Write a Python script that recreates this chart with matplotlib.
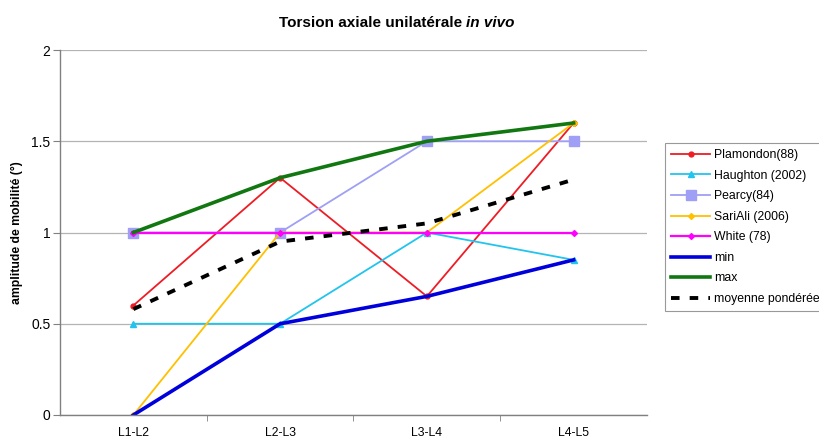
import matplotlib
matplotlib.use("Agg")
import matplotlib.pyplot as plt
from matplotlib.ticker import FixedLocator, NullFormatter

plt.rcParams['font.family'] = ['Liberation Sans', 'DejaVu Sans']

# data
levels = ['L1-L2', 'L2-L3', 'L3-L4', 'L4-L5']
plamondon = [0.6, 1.3, 0.65, 1.6]
haughton = [0.5, 0.5, 1.0, 0.85]
pearcy = [1.0, 1.0, 1.5, 1.5]
sariali = [0.0, 1.0, 1.0, 1.6]
white = [1.0, 1.0, 1.0, 1.0]
min_vals = [0.0, 0.5, 0.65, 0.85]
max_vals = [1.0, 1.3, 1.5, 1.6]
moyenne = [0.58, 0.95, 1.05, 1.29]

x = list(range(len(levels)))

fig = plt.figure(figsize=(8.2, 4.41), dpi=100)
ax = fig.add_axes([60 / 820, 1 - 415 / 441, 587 / 820, 365 / 441])

ax.plot(x, plamondon, color='#EE1C24', lw=1.3, marker='o', ms=3.5, label='Plamondon(88)')
ax.plot(x, haughton, color='#22C4EE', lw=1.3, marker='^', ms=4, label='Haughton (2002)')
ax.plot(x, pearcy, color='#9F9FF5', lw=1.3, marker='s', ms=7, label='Pearcy(84)')
ax.plot(x, sariali, color='#FFC000', lw=1.3, marker='D', ms=3, label='SariAli (2006)')
ax.plot(x, white, color='#FF00FF', lw=1.6, marker='D', ms=3, label='White (78)')
ax.plot(x, min_vals, color='#0000DD', lw=2.6, label='min')
ax.plot(x, max_vals, color='#117711', lw=2.6, label='max')
ax.plot(x, moyenne, color='black', lw=2.8, ls=(0, (2.2, 2.6)), label='moyenne pondérée')

ax.set_xlim(-0.5, len(levels) - 0.5)
ax.set_ylim(0, 2)
ax.set_yticks([0, 0.5, 1, 1.5, 2])
ax.set_yticklabels(['0', '0.5', '1', '1.5', '2'])
ax.set_xticks(x)
ax.set_xticklabels(levels)
ax.xaxis.set_minor_locator(FixedLocator([0.5, 1.5, 2.5]))
ax.xaxis.set_minor_formatter(NullFormatter())
ax.tick_params(axis='x', which='major', length=0, pad=9, labelsize=8.8)
ax.tick_params(axis='x', which='minor', length=4, color='#808080')
ax.tick_params(axis='y', length=5, color='#808080', labelsize=10, pad=2)

ax.grid(axis='y', color='#B4B4B4', lw=0.9)
ax.set_axisbelow(True)
for side in ['top', 'right']:
    ax.spines[side].set_visible(False)
for side in ['left', 'bottom']:
    ax.spines[side].set_color('#808080')
    ax.spines[side].set_linewidth(1.0)

ax.set_ylabel('amplitude de mobilité (°)', fontsize=8.8, fontweight='bold', labelpad=6)

# title: bold, with "in vivo" in italic, centred around x=397 px
ty = 1 - 23 / 441
t1 = fig.text(0, ty, 'Torsion axiale unilatérale ', fontsize=11,
              fontweight='bold', ha='left', va='center')
t2 = fig.text(0, ty, 'in vivo', fontsize=11, fontweight='bold', style='italic',
              ha='left', va='center')
fig.canvas.draw()
r = fig.canvas.get_renderer()
w1 = t1.get_window_extent(r).width
w2 = t2.get_window_extent(r).width
x0 = 397 - (w1 + w2) / 2
t1.set_x(x0 / 820)
t2.set_x((x0 + w1) / 820)

leg = fig.legend(loc='upper left', bbox_to_anchor=(665 / 820, 1 - 143 / 441),
                 borderaxespad=0, fontsize=8.8, frameon=True, fancybox=False,
                 edgecolor='#808080', handlelength=3.2, labelspacing=0.7,
                 borderpad=0.5, handletextpad=0.3)
leg.get_frame().set_linewidth(0.8)

fig.savefig('out.png', dpi=100, facecolor='white')
